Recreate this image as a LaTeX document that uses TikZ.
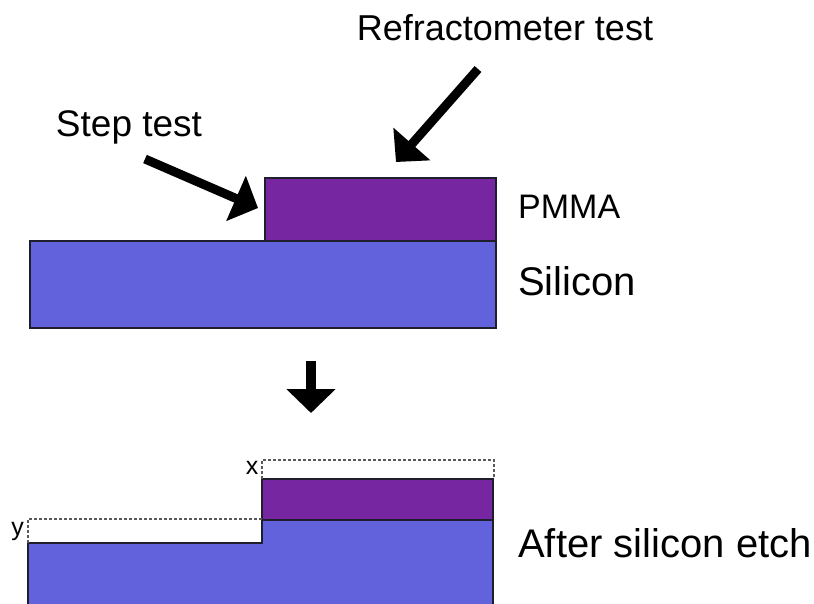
\documentclass[tikz,border=0pt]{standalone}
\usepackage{fontspec}
\setmainfont{Liberation Sans}
\usetikzlibrary{arrows.meta}
\definecolor{silicon}{RGB}{98,98,220}
\definecolor{pmma}{RGB}{117,38,160}
\definecolor{edge}{RGB}{30,30,45}
\tikzset{
  layer/.style={draw=edge, line width=1.6pt},
  bigarrow/.style={line width=9pt, -{Triangle[length=24pt,width=48pt]}},
  guide/.style={draw=black!65, line width=1.4pt, dash pattern=on 3pt off 2pt},
  lbl/.style={inner sep=0pt, font=\fontsize{#1}{#1}\selectfont},
}
\begin{document}
\begin{tikzpicture}[x=1pt,y=-1pt]
\useasboundingbox (0,0) rectangle (814,604);
\clip (0,0) rectangle (814,604);
% top stack
\draw[layer, fill=silicon] (30,241) rectangle (496,328);
\draw[layer, fill=pmma, line width=2pt] (265,178) rectangle (496,241);
\coordinate (pmmatop) at (396,162);
\coordinate (stepcorner) at (258,208);
\coordinate (refstart) at (478,69);
\coordinate (stepstart) at (145,159);
\node[lbl=36, anchor=base] (reftxt) at (505,41) {Refractometer test};
\node[lbl=37, anchor=base] (steptxt) at (129,137) {Step test};
\node[lbl=34, anchor=base west] (pmmatxt) at (518,219) {PMMA};
\node[lbl=40, anchor=base west] (sitxt) at (518,295) {Silicon};
\draw[bigarrow] (refstart) -- (pmmatop);
\draw[bigarrow] (stepstart) -- (stepcorner);
% process arrow
\coordinate (downA) at (311,361);
\coordinate (downB) at (311,413);
\draw[bigarrow, line width=10pt] (downA) -- (downB);
% bottom stack
\draw[layer, fill=silicon] (28,620) -- (28,543) -- (262,543) -- (262,520) -- (493,520) -- (493,620);
\draw[layer, fill=pmma, line width=2pt] (262,479) rectangle (493,520);
\draw[guide] (262,479) -- (262,460) -- (494,460) -- (494,479);
\draw[guide] (262,519) -- (28,519) -- (28,543);
\node[lbl=25, anchor=center] (xl) at (252,468) {x};
\node[lbl=25, anchor=base] (yl) at (17.5,535) {y};
\node[lbl=40, anchor=base west] (aftertxt) at (518,557) {After silicon etch};
\end{tikzpicture}
\end{document}
